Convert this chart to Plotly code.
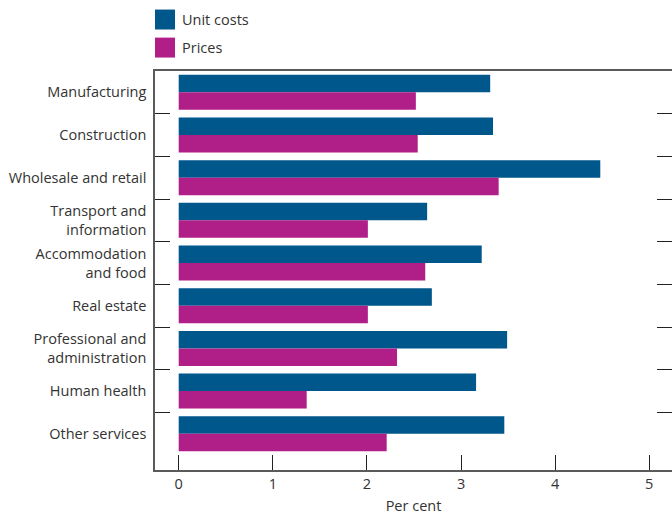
import plotly.graph_objects as go

# Sector labels (top to bottom) and the two series, in per cent
sectors = [
    "Manufacturing",
    "Construction",
    "Wholesale and retail",
    "Transport and<br>information",
    "Accommodation<br>and food",
    "Real estate",
    "Professional and<br>administration",
    "Human health",
    "Other services",
]
unit_costs = [3.31, 3.34, 4.48, 2.64, 3.22, 2.69, 3.49, 3.16, 3.46]
prices = [2.52, 2.54, 3.40, 2.01, 2.62, 2.01, 2.32, 1.36, 2.21]

series_names = ["Unit costs", "Prices"]
series_colors = ["#00578C", "#B01E88"]
x_ticks = [0, 1, 2, 3, 4, 5]

FONT = "Open Sans"
TEXT = "#333333"
FRAME = "#5a5a5a"
TICK = "#222222"

fig = go.Figure()
for name, vals, col in zip(series_names, [unit_costs, prices], series_colors):
    fig.add_trace(go.Bar(
        y=sectors, x=vals, name=name, orientation="h",
        marker=dict(color=col, line=dict(width=0)),
        showlegend=False, hoverinfo="x+name",
    ))

# Hand-built legend above the plot: coloured squares + labels
for i, (name, col) in enumerate(zip(series_names, series_colors)):
    top = 1.154 - i * 0.0703
    fig.add_shape(type="rect", xref="paper", yref="paper",
                  x0=0, x1=0.0387, y0=top - 0.05, y1=top,
                  fillcolor=col, line=dict(width=0))
    fig.add_annotation(xref="paper", yref="paper", x=0.049, y=top - 0.025,
                       text=name, showarrow=False, xanchor="left",
                       yanchor="middle", font=dict(family=FONT, size=14.5, color=TEXT))

fig.update_layout(
    width=672, height=515,
    margin=dict(l=155, r=0, t=71, b=45),
    paper_bgcolor="white", plot_bgcolor="white",
    barmode="group", bargap=0.18, bargroupgap=0,
    font=dict(family=FONT, size=14.5, color=TEXT),
    xaxis=dict(
        range=[-0.252, 5.242], tickvals=x_ticks, ticks="inside", ticklen=15,
        tickwidth=1.3, tickcolor=TICK, showgrid=False, zeroline=False,
        showline=True, linecolor=FRAME, linewidth=1.5, mirror=True,
        title=dict(text="Per cent", standoff=10, font=dict(size=14.5, color=TEXT)),
        tickfont=dict(size=14.5, color=TEXT),
    ),
    yaxis=dict(
        type="category", range=[8.85, -0.5], tickson="boundaries",
        ticks="inside", ticklen=15, tickwidth=1.3, tickcolor=TICK,
        showgrid=False, zeroline=False, showline=True, linecolor=FRAME,
        linewidth=1.5, tickfont=dict(size=14.5, color=TEXT),
        ticklabelstandoff=4,
    ),
    yaxis2=dict(
        overlaying="y", side="right", anchor="x", range=[8.85, -0.5],
        tickvals=[0.5, 1.5, 2.5, 3.5, 4.5, 5.5, 6.5, 7.5],
        ticks="inside", ticklen=15, tickwidth=1.3, tickcolor=TICK,
        showticklabels=False, showgrid=False, zeroline=False, showline=False,
    ),
)
# Anchor an invisible trace to the right-hand axis so its ticks are drawn
fig.add_trace(go.Scatter(x=[None], y=[None], yaxis="y2", showlegend=False,
                         hoverinfo="skip"))

fig.write_html("out.html")
